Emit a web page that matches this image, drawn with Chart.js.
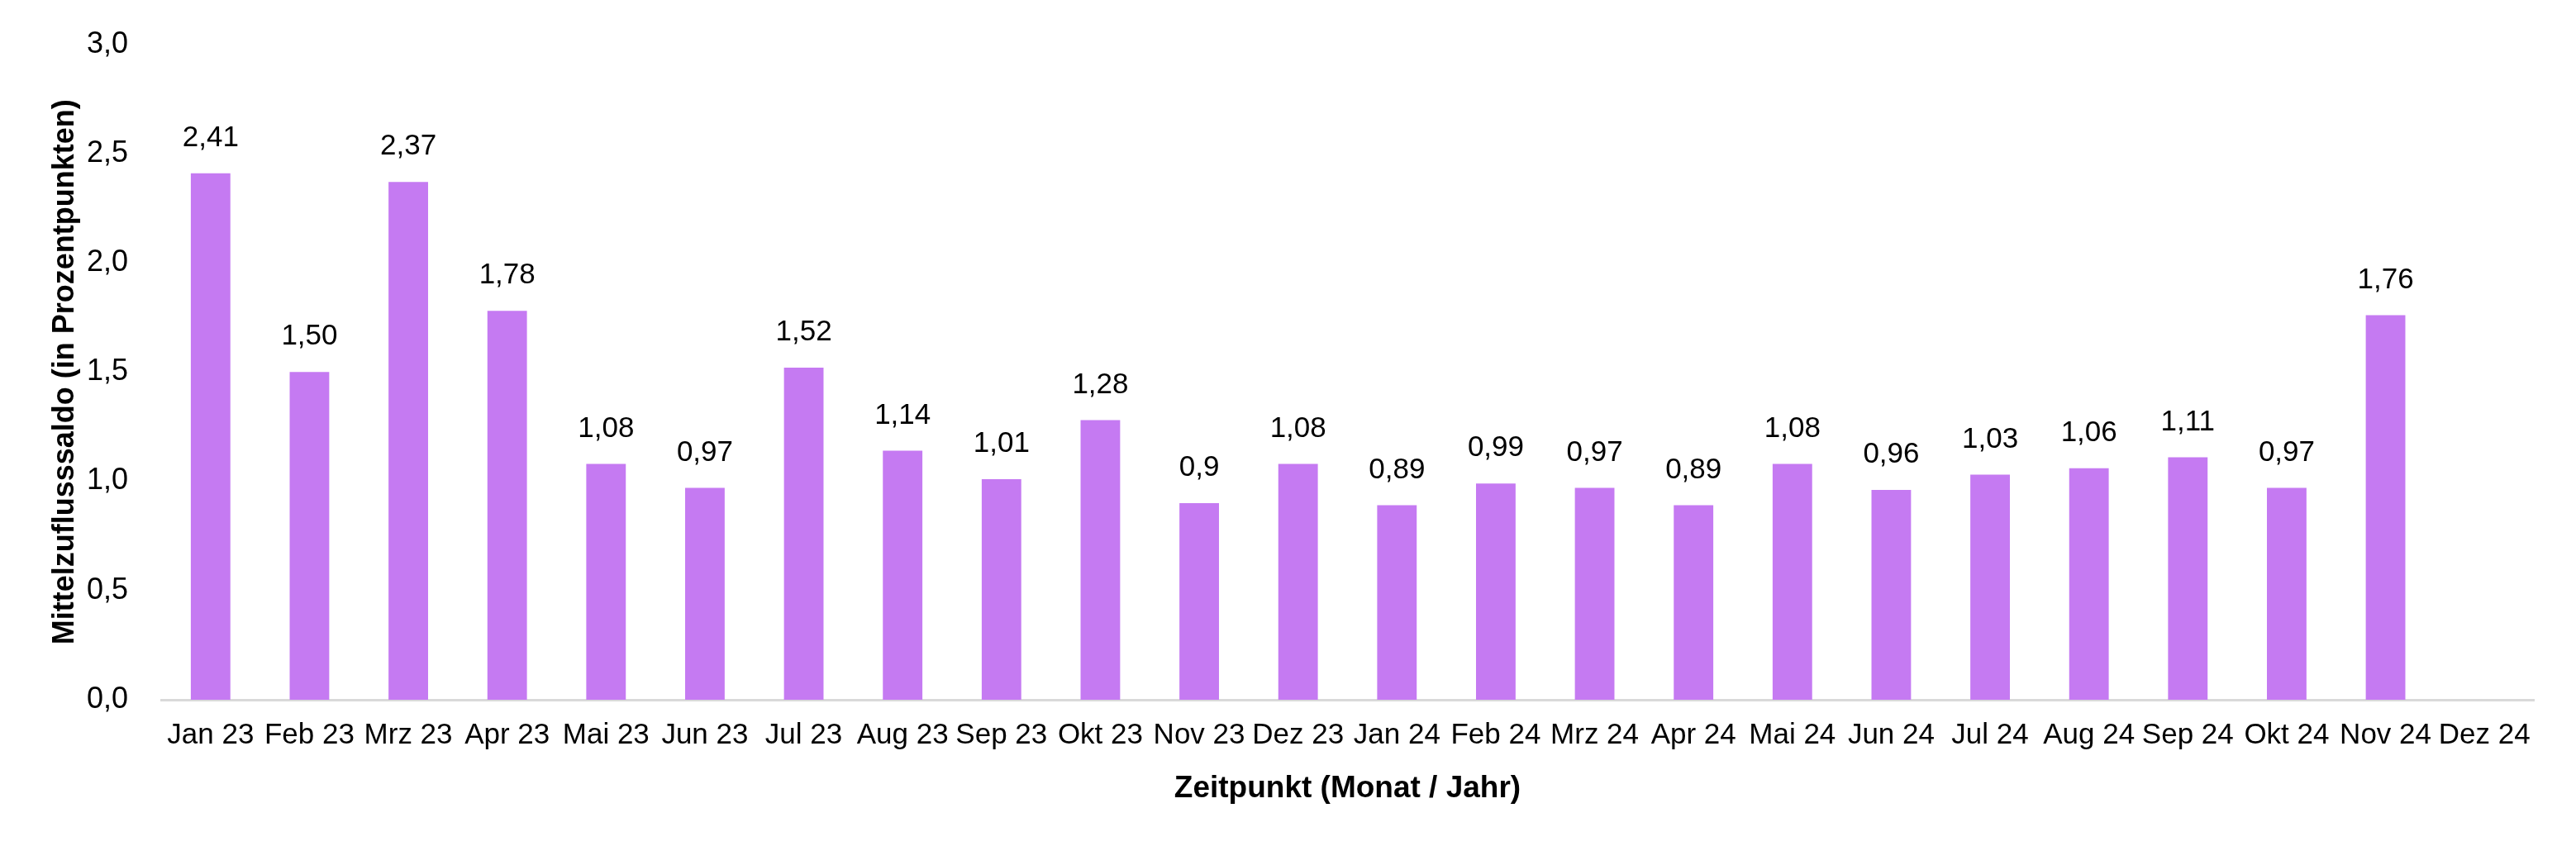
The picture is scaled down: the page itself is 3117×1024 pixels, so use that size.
<!DOCTYPE html>
<html>
<head>
<meta charset="utf-8">
<script src="https://cdn.jsdelivr.net/npm/chart.js@4.4.1/dist/chart.umd.min.js"></script>
<style>
  html, body { margin: 0; padding: 0; background: #fff; }
  #wrap { width: 3117px; height: 1024px; }
</style>
</head>
<body>
<div id="wrap"><canvas id="chart" width="3117" height="1024"></canvas></div>
<script>
"use strict";
///////////////////////////////
//Data
const months = [
  "Jan 23", "Feb 23", "Mrz 23", "Apr 23", "Mai 23", "Jun 23",
  "Jul 23", "Aug 23", "Sep 23", "Okt 23", "Nov 23", "Dez 23",
  "Jan 24", "Feb 24", "Mrz 24", "Apr 24", "Mai 24", "Jun 24",
  "Jul 24", "Aug 24", "Sep 24", "Okt 24", "Nov 24", "Dez 24",
];
const saldo = [
  2.41, 1.5, 2.37, 1.78, 1.08, 0.97,
  1.52, 1.14, 1.01, 1.28, 0.9, 1.08,
  0.89, 0.99, 0.97, 0.89, 1.08, 0.96,
  1.03, 1.06, 1.11, 0.97, 1.76, null,
];
// labels as printed above the bars
const saldoText = [
  "2,41", "1,50", "2,37", "1,78", "1,08", "0,97",
  "1,52", "1,14", "1,01", "1,28", "0,9", "1,08",
  "0,89", "0,99", "0,97", "0,89", "1,08", "0,96",
  "1,03", "1,06", "1,11", "0,97", "1,76", "",
];
const yTicks = [0, 0.5, 1, 1.5, 2, 2.5, 3];

const fontFamily = "'Liberation Sans', Arial, sans-serif";
const barColor = "#C57AF2";

//////////////////////////////
//Value labels above bars
const valueLabels = {
  id: "valueLabels",
  afterDatasetsDraw(chart) {
    const ctx = chart.ctx;
    const meta = chart.getDatasetMeta(0);
    ctx.save();
    ctx.font = `35px ${fontFamily}`;
    ctx.fillStyle = "#000";
    ctx.textAlign = "center";
    ctx.textBaseline = "bottom";
    meta.data.forEach(function (bar, i) {
      if (saldo[i] === null) return;
      ctx.fillText(saldoText[i], bar.x, bar.y - 25);
    });
    ctx.restore();
  },
};

//////////////////////////////
//Chart
new Chart(document.getElementById("chart"), {
  type: "bar",
  data: {
    labels: months,
    datasets: [
      {
        data: saldo,
        backgroundColor: barColor,
        borderWidth: 0,
        barPercentage: 1,
        categoryPercentage: 0.4,
      },
    ],
  },
  options: {
    responsive: false,
    animation: false,
    devicePixelRatio: 1,
    layout: { padding: { top: 51, right: 51, bottom: 0, left: 0 } },
    plugins: {
      legend: { display: false },
      tooltip: { enabled: false },
    },
    scales: {
      x: {
        grid: { drawOnChartArea: false, drawTicks: false },
        border: { display: true, color: "#D9D9D9", width: 3 },
        ticks: {
          color: "#000",
          font: { family: fontFamily, size: 35 },
          padding: 22,
          maxRotation: 0,
          autoSkip: false,
        },
        title: {
          display: true,
          text: "Zeitpunkt (Monat / Jahr)",
          color: "#000",
          font: { family: fontFamily, size: 37, weight: "bold" },
          padding: { top: 0, bottom: 47 },
        },
        afterFit: function (scale) {
          scale.height = 177;
        },
      },
      y: {
        min: 0,
        max: 3,
        grid: { display: false },
        border: { display: false },
        afterBuildTicks: function (scale) {
          scale.ticks = yTicks.map((v) => ({ value: v }));
        },
        ticks: {
          color: "#000",
          font: { family: fontFamily, size: 36 },
          padding: 32,
          callback: function (value) {
            return value.toFixed(1).replace(".", ",");
          },
        },
        title: {
          display: true,
          text: "Mittelzuflusssaldo (in Prozentpunkten)",
          color: "#000",
          font: { family: fontFamily, size: 36, weight: "bold" },
          padding: { top: 57, bottom: 0 },
        },
        afterFit: function (scale) {
          scale.width = 195;
        },
      },
    },
  },
  plugins: [valueLabels],
});
</script>
</body>
</html>
